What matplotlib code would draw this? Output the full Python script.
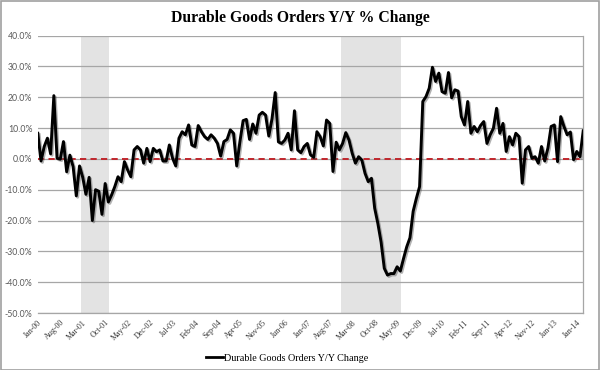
import matplotlib
matplotlib.use('Agg')
import matplotlib.pyplot as plt
import matplotlib.patheffects as pe
from matplotlib.lines import Line2D
import numpy as np

# monthly Y/Y % change, Jan-00 .. Mar-14
yoy_change = [
    8.3, -0.7, 4.0, 6.7, 1.6, 20.5, 0.2, -0.1, 5.6, -4.2, 1.2, -2.5,
    -12.0, -2.3, -6.0, -11.5, -6.0, -20.0, -10.0, -10.5, -18.0, -8.0, -14.0, -11.7,
    -9.0, -5.8, -7.4, -0.9, -3.6, -5.8, 2.9, 4.0, 2.9, -1.4, 3.4, -0.9,
    3.4, 2.3, 2.9, -0.7, -0.7, 4.5, 0.2, -2.3, 6.7, 8.8, 7.8, 11.0,
    4.5, 4.0, 10.8, 8.8, 7.2, 6.3, 7.8, 6.7, 5.0, 0.9, 5.6, 6.3,
    9.4, 8.3, -2.3, 5.6, 12.4, 12.8, 6.3, 11.3, 8.3, 14.2, 15.1, 14.2,
    7.4, 13.0, 21.5, 5.5, 5.0, 6.1, 8.3, 2.9, 15.6, 2.9, 2.0, 4.0,
    5.0, 1.3, 0.5, 8.8, 7.2, 4.2, 12.6, 11.5, -4.1, 5.4, 2.9, 5.0,
    8.5, 6.1, 1.8, -1.4, 0.7, -0.4, -4.7, -7.4, -6.3, -16.0, -21.0, -27.0,
    -35.5, -37.7, -37.2, -37.2, -35.0, -36.4, -32.3, -28.5, -25.6, -17.0, -12.8, -9.0,
    18.6, 20.2, 22.9, 29.7, 25.1, 27.8, 21.8, 21.3, 28.0, 19.8, 22.4, 22.0,
    13.7, 11.0, 18.6, 8.3, 10.5, 8.8, 10.8, 12.1, 5.0, 7.8, 9.9, 16.4,
    8.3, 11.5, 2.4, 7.2, 4.5, 8.3, 7.2, -7.9, 2.9, 4.0, 0.2, 0.7,
    -1.4, 4.0, -0.7, 3.5, 10.5, 11.0, -0.9, 13.7, 10.5, 7.8, 8.7, -0.3,
    2.4, 0.7, 9.1,
]

tick_labels = ['Jan-00', 'Aug-00', 'Mar-01', 'Oct-01', 'May-02', 'Dec-02', 'Jul-03',
               'Feb-04', 'Sep-04', 'Apr-05', 'Nov-05', 'Jun-06', 'Jan-07', 'Aug-07',
               'Mar-08', 'Oct-08', 'May-09', 'Dec-09', 'Jul-10', 'Feb-11', 'Sep-11',
               'Apr-12', 'Nov-12', 'Jun-13', 'Jan-14']
tick_step = 7

# recessions (month index from Jan-00): Mar-01..Nov-01, Dec-07..Jun-09
recessions = [(14, 22), (95, 113)]

months = np.arange(len(yoy_change))

fig = plt.figure(figsize=(6, 3.7), dpi=100)
ax = fig.add_axes([0.063, 0.154, 0.909, 0.75])

for start, end in recessions:
    ax.axvspan(start - 0.4, end + 0.3, color='#e3e3e3', lw=0, zorder=0)

ax.plot(months, yoy_change, color='black', lw=2.1, zorder=4,
        path_effects=[pe.SimpleLineShadow(offset=(1, -1), shadow_color='#555555', alpha=0.45),
                      pe.Normal()])
ax.axhline(0, color='#c0272d', lw=1.4, ls=(0, (3.2, 2.2)), zorder=3)

ax.set_xlim(0, len(yoy_change) - 1)
ax.set_ylim(-50, 40)
ax.set_yticks(np.arange(-50, 41, 10))
ax.set_yticklabels([f'{v:.1f}%' for v in np.arange(-50, 41, 10)], family='Lato')
ax.grid(axis='y', color='#a6a6a6', lw=0.9)
ax.set_axisbelow(True)

ax.set_xticks(np.arange(0, len(tick_labels) * tick_step, tick_step))
ax.set_xticklabels(tick_labels, rotation=45, ha='right', rotation_mode='anchor',
                   fontsize=5.8, family='Liberation Serif', color='#333333')
ax.tick_params(axis='both', length=0)
ax.tick_params(axis='x', pad=4)
ax.tick_params(axis='y', labelsize=6.3, labelcolor='#595959', pad=4)

for s in ['top', 'left']:
    ax.spines[s].set_visible(False)
ax.spines['right'].set_color('#a6a6a6')
ax.spines['bottom'].set_color('#a6a6a6')
ax.spines['right'].set_linewidth(0.9)
ax.spines['bottom'].set_linewidth(0.9)

fig.text(0.5, 0.952, 'Durable Goods Orders Y/Y % Change', ha='center', va='center',
         fontsize=11.3, fontweight='bold', family='Liberation Serif')

handle = Line2D([0], [0], color='black', lw=2)
fig.legend(handles=[handle], labels=['Durable Goods Orders Y/Y Change'],
           loc='center', bbox_to_anchor=(0.478, 0.032), frameon=False,
           prop={'family': 'Liberation Serif', 'size': 7.3}, handlelength=1.7,
           handletextpad=0.1)

# outer frame
fig.patches.append(plt.Rectangle((0.001, 0.001), 0.997, 0.997, transform=fig.transFigure,
                                 fill=False, edgecolor='#a0a0a0', lw=1.2))

fig.savefig('out.png', dpi=100, facecolor='white')
